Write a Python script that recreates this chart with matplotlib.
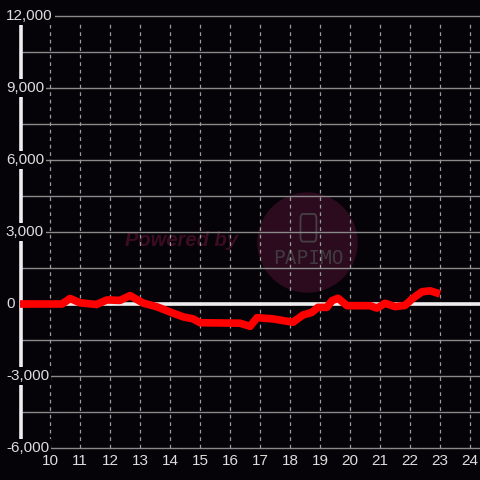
import matplotlib
matplotlib.use("Agg")
import matplotlib.pyplot as plt
from matplotlib.patches import Ellipse, FancyBboxPatch

# hour of day vs. value
hours = [9.0, 10.4, 10.67, 11.0, 11.55, 11.9, 12.33, 12.67, 13.1, 13.55, 14.1, 14.45,
         14.77, 15.0, 16.33, 16.67, 16.9, 17.43, 18.1, 18.43, 18.73, 18.93, 19.23, 19.4,
         19.6, 19.9, 20.67, 20.9, 21.17, 21.5, 21.83, 22.1, 22.4, 22.67, 23.0]
values = [0, 0, 230, 50, -20, 170, 150, 350, 40, -110, -380, -540,
          -620, -780, -800, -930, -570, -620, -760, -460, -350, -140, -140, 140,
          240, -70, -70, -170, 30, -110, -60, 240, 510, 550, 420]

x_ticks = list(range(10, 25))
y_ticks = [12000, 9000, 6000, 3000, 0, -3000, -6000]
y_grid = list(range(-6000, 12001, 1500))

bg = "#050307"
fig = plt.figure(figsize=(4.8, 4.8), dpi=100, facecolor=bg)
ax = fig.add_axes([0, 0, 1, 1])
ax.set_facecolor(bg)
# 30 px per hour, 72 px per 3000
ax.set_xlim(9 - 20 / 30, 10 + 430 / 30)
ax.set_ylim(-6000 - 32 / 72 * 3000, 12000 + 16 / 72 * 3000)
ax.axis("off")

top = 12000 - 8 / 72 * 3000

# watermark
ax.add_patch(Ellipse((18.583, 2562), 99 / 30, 99 / 72 * 3000, color="#2c0b1e", zorder=1))
ax.add_patch(FancyBboxPatch((18.35, 2600), 0.53, 1150, boxstyle="round,pad=0,rounding_size=0.08",
                            fill=False, ec="#454045", lw=1.3, zorder=1.5,
                            mutation_aspect=1000 / 0.4))
ax.text(18.6, 1900, "PAPIMO", color="#403a40", fontsize=14, ha="center", va="center",
        family="DejaVu Sans Mono", zorder=1.5)
ax.text(14.4, 2625, "Powered by", color="#3c0c24", fontsize=14.5, fontweight="bold",
        fontstyle="italic", family="Liberation Sans", ha="center", va="center", zorder=1.5)

# grid
ax.hlines(y_grid, 9, 24.4, color="#8a8a8a", lw=1, zorder=2)
ax.vlines(x_ticks, -6000, top, color="#9a9a9a", lw=0.9, linestyles=(0, (3, 3)), zorder=2)
ax.hlines(0, 9, 24.4, color="#eeeeee", lw=2.6, zorder=3)
ax.vlines(9.02, -6000, top, color="#eeeeee", lw=2.6, zorder=3)

# tick labels
for v in y_ticks:
    ax.text(8.53, v, f"{v:,}", color="#dddddd", fontsize=11, family="Liberation Sans",
            ha="left", va="center", zorder=4,
            bbox=dict(facecolor=bg, edgecolor="none", pad=1.5))
for h in x_ticks:
    ax.text(h, -6540, str(h), color="#dddddd", fontsize=11, family="Liberation Sans",
            ha="center", va="center", zorder=4)

ax.plot(hours, values, color="#ff0000", lw=5.5, solid_capstyle="butt",
        solid_joinstyle="round", zorder=5)

fig.savefig("out.png", dpi=100, facecolor=bg)
